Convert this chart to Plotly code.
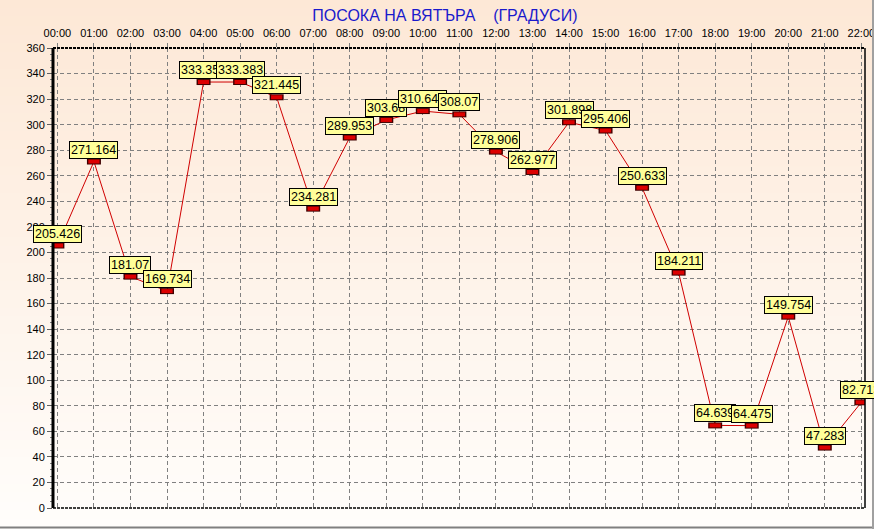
import plotly.graph_objects as go

hours = ["00:00", "01:00", "02:00", "03:00", "04:00", "05:00", "06:00", "07:00",
         "08:00", "09:00", "10:00", "11:00", "12:00", "13:00", "14:00", "15:00",
         "16:00", "17:00", "18:00", "19:00", "20:00", "21:00", "22:00"]
direction = [205.426, 271.164, 181.07, 169.734, 333.359, 333.383, 321.445, 234.281,
             289.953, 303.68, 310.648, 308.07, 278.906, 262.977, 301.898, 295.406,
             250.633, 184.211, 64.639, 64.475, 149.754, 47.283, 82.713]
y_ticks = list(range(0, 361, 20))
title_text = "ПОСОКА НА ВЯТЪРА    (ГРАДУСИ)"

W, H = 874, 529
ml, mr, mt, mb = 53, 9, 48, 21

xs = list(range(len(hours)))
fig = go.Figure()
fig.add_trace(go.Scatter(
    x=xs, y=direction, mode="lines",
    line=dict(color="#D00000", width=1),
    hoverinfo="skip", showlegend=False))
# rectangular markers: dark outline + red fill
fig.add_trace(go.Scatter(
    x=xs, y=direction, mode="markers",
    marker=dict(symbol="line-ew", size=10, line=dict(color="#400000", width=6)),
    hoverinfo="skip", showlegend=False))
fig.add_trace(go.Scatter(
    x=xs, y=direction, mode="markers",
    marker=dict(symbol="line-ew", size=8, line=dict(color="#DD0000", width=4)),
    hoverinfo="skip", showlegend=False))

for i, v in enumerate(direction):
    fig.add_annotation(x=i, y=v, text=f"{v:g}", showarrow=False,
                       yanchor="bottom", xanchor="center", yshift=3,
                       bgcolor="#FFFF99", bordercolor="#000000", borderwidth=1,
                       borderpad=1, font=dict(family="Liberation Sans", size=12.5, color="#000000"))

# background gradient bands
top_c = (253, 232, 214)
bot_c = (255, 253, 251)
nb = 60
y0p = -mb / (H - mt - mb)
y1p = 1 + mt / (H - mt - mb)
x0p = -ml / (W - ml - mr)
x1p = 1 + mr / (W - ml - mr)
shapes = []
for k in range(nb):
    t = k / (nb - 1)
    c = tuple(round(top_c[j] + (bot_c[j] - top_c[j]) * t) for j in range(3))
    ya = y1p - (y1p - y0p) * k / nb
    yb = y1p - (y1p - y0p) * (k + 1) / nb
    shapes.append(dict(type="rect", xref="paper", yref="paper", x0=x0p, x1=x1p,
                       y0=yb, y1=ya + 0.002, fillcolor="rgb(%d,%d,%d)" % c,
                       line=dict(width=0), layer="below"))
# frame lines
shapes.append(dict(type="line", xref="paper", yref="paper", x0=0, x1=1, y0=1, y1=1,
                   line=dict(color="black", width=2, dash="3px,1px"), layer="above"))
shapes.append(dict(type="line", xref="paper", yref="paper", x0=0, x1=1, y0=0, y1=0,
                   line=dict(color="black", width=1.5, dash="3px,1px"), layer="above"))
shapes.append(dict(type="line", xref="paper", yref="paper", x0=1, x1=1, y0=0, y1=1,
                   line=dict(color="black", width=1.5), layer="above"))
shapes.append(dict(type="line", xref="paper", yref="paper", x0=0, x1=0, y0=0, y1=1,
                   line=dict(color="black", width=3), layer="above"))
# window border
shapes.append(dict(type="line", xref="paper", yref="paper", x0=x0p, x1=x1p,
                   y0=y0p + 1.5 / (H - mt - mb), y1=y0p + 1.5 / (H - mt - mb),
                   line=dict(color="#808080", width=2), layer="above"))
shapes.append(dict(type="line", xref="paper", yref="paper", x0=x1p - 1 / (W - ml - mr),
                   x1=x1p - 1 / (W - ml - mr), y0=y0p, y1=y1p,
                   line=dict(color="#A0A0A0", width=2), layer="above"))

fig.update_layout(
    width=W, height=H,
    margin=dict(l=ml, r=mr, t=mt, b=mb, pad=0, autoexpand=False),
    paper_bgcolor="rgb(253,232,214)", plot_bgcolor="rgba(0,0,0,0)",
    shapes=shapes,
    title=dict(text=title_text, x=0.509, xanchor="center", y=1 - 15 / H, yanchor="middle",
               font=dict(family="Liberation Sans", size=16, color="#1A1ACC")),
    font=dict(family="Liberation Sans", size=11, color="#000000"),
    xaxis=dict(side="top", range=[-0.12, 22.1], tickmode="array",
               tickvals=xs, ticktext=hours,
               showgrid=True, gridcolor="#808080", griddash="4px,3px", gridwidth=1,
               zeroline=False, showline=False, automargin=False,
               ticklabeloverflow="allow",
               ticks="outside", ticklen=4, tickcolor="#808080", ticklabelstandoff=2,
               tickfont=dict(size=11)),
    yaxis=dict(range=[0, 360], tickmode="array", tickvals=y_ticks,
               ticktext=[str(v) for v in y_ticks],
               showgrid=True, gridcolor="#808080", griddash="4px,3px", gridwidth=1,
               zeroline=False, showline=False, automargin=False,
               ticklabeloverflow="allow",
               ticks="outside", ticklen=5, tickcolor="#606060",
               minor=dict(ticks="outside", ticklen=2, dtick=5, tickcolor="#808080", showgrid=False),
               tickfont=dict(size=11)),
)

fig.write_html("out.html", config={"displayModeBar": False},
               post_script="document.body.style.margin='0px';document.body.style.overflow='hidden';")
